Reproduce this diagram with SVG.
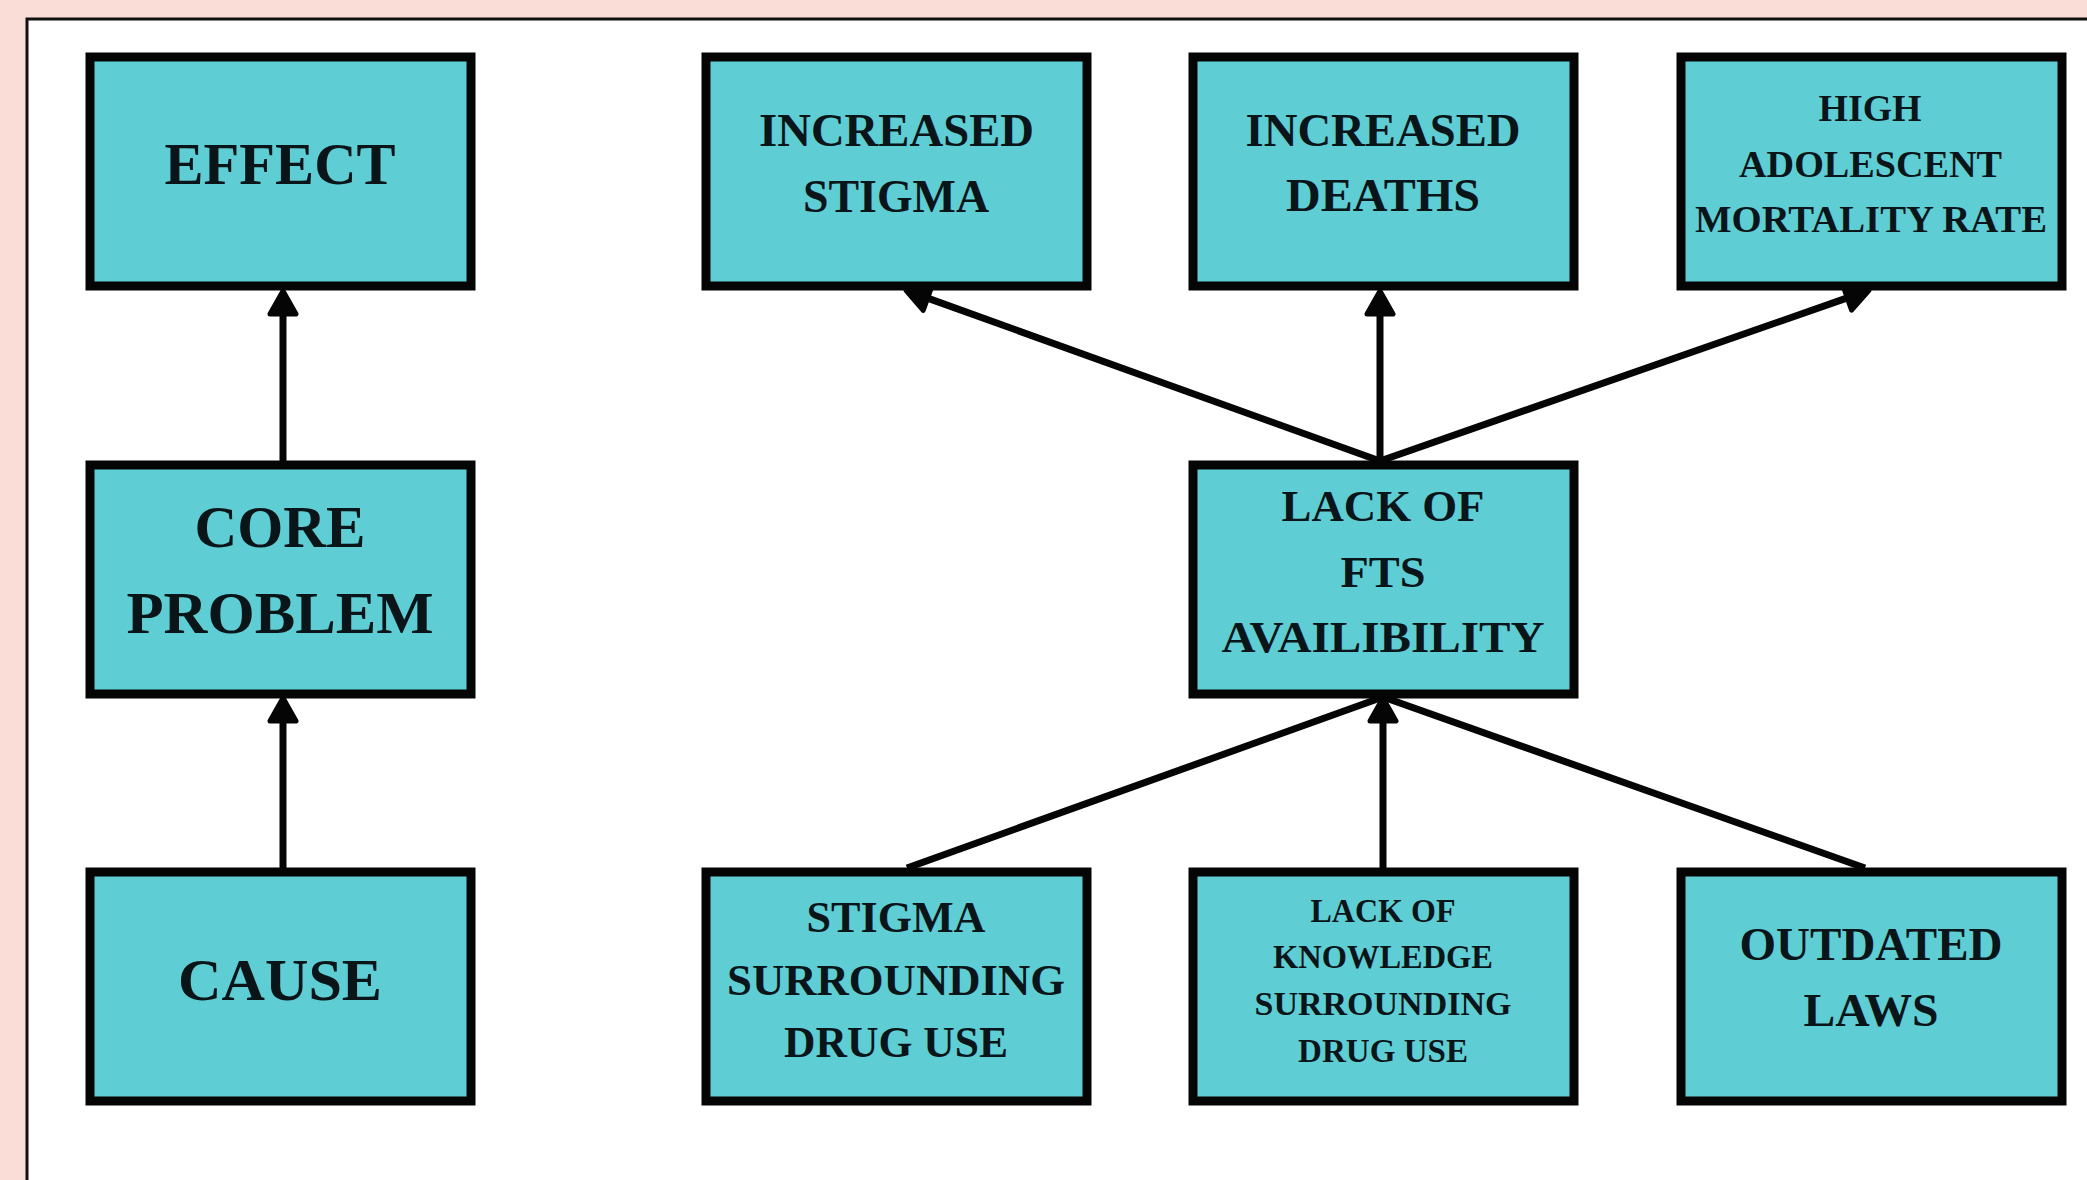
<svg xmlns="http://www.w3.org/2000/svg" width="2087" height="1180" viewBox="0 0 2087 1180">
<style>
.box{fill:#5FCED4;stroke:#050505;stroke-width:9}
.t{font-family:"Liberation Serif","Times New Roman",serif;font-weight:bold;fill:#0a1519;text-anchor:middle}
.c{stroke:#050505;stroke-width:7;fill:none}
</style>
<defs>
<marker id="ah" markerUnits="userSpaceOnUse" viewBox="-4 -17 34 34" markerWidth="34" markerHeight="34" refX="0" refY="0" orient="auto">
<path d="M0,-13 L23,0 L0,13 Z" fill="#050505" stroke="#050505" stroke-width="5" stroke-linejoin="round"/>
</marker>
</defs>
<rect x="0" y="0" width="2087" height="1180" fill="#F9DDD6"/>
<rect x="27" y="19" width="2100" height="1200" fill="#FFFFFF" stroke="#111111" stroke-width="3"/>

<g id="connectors">
<line class="c" x1="283" y1="869" x2="283" y2="721" marker-end="url(#ah)"/>
<line class="c" x1="283" y1="461" x2="283" y2="314" marker-end="url(#ah)"/>
<line class="c" x1="1380" y1="461" x2="1380" y2="314" marker-end="url(#ah)"/>
<line class="c" x1="1380" y1="461" x2="927.6" y2="298.1" marker-end="url(#ah)"/>
<line class="c" x1="1380" y1="461" x2="1847.3" y2="297.9" marker-end="url(#ah)"/>
<line class="c" x1="1383" y1="868" x2="1383" y2="721" marker-end="url(#ah)"/>
<line class="c" x1="907" y1="868" x2="1383" y2="697"/>
<line class="c" x1="1865" y1="868" x2="1383" y2="697"/>
</g>

<g id="effect">
<rect class="box" x="90" y="57" width="381" height="229"/>
<text class="t" x="280" y="184" font-size="60" textLength="231" lengthAdjust="spacingAndGlyphs">EFFECT</text>
</g>
<g id="increased-stigma">
<rect class="box" x="706" y="57" width="381" height="229"/>
<text class="t" x="896.5" y="146" font-size="47" textLength="275" lengthAdjust="spacingAndGlyphs">INCREASED</text>
<text class="t" x="896" y="212" font-size="47" textLength="186" lengthAdjust="spacingAndGlyphs">STIGMA</text>
</g>
<g id="increased-deaths">
<rect class="box" x="1193" y="57" width="381" height="229"/>
<text class="t" x="1383" y="146" font-size="47" textLength="275" lengthAdjust="spacingAndGlyphs">INCREASED</text>
<text class="t" x="1383" y="211" font-size="47" textLength="194" lengthAdjust="spacingAndGlyphs">DEATHS</text>
</g>
<g id="high-mortality">
<rect class="box" x="1681" y="57" width="381" height="229"/>
<text class="t" x="1870" y="121" font-size="38" textLength="103" lengthAdjust="spacingAndGlyphs">HIGH</text>
<text class="t" x="1870.5" y="177" font-size="38" textLength="263" lengthAdjust="spacingAndGlyphs">ADOLESCENT</text>
<text class="t" x="1871" y="232" font-size="38" textLength="352" lengthAdjust="spacingAndGlyphs">MORTALITY RATE</text>
</g>
<g id="core-problem">
<rect class="box" x="90" y="465" width="381" height="229"/>
<text class="t" x="280" y="547" font-size="60" textLength="171" lengthAdjust="spacingAndGlyphs">CORE</text>
<text class="t" x="280" y="633" font-size="60" textLength="307" lengthAdjust="spacingAndGlyphs">PROBLEM</text>
</g>
<g id="lack-fts">
<rect class="box" x="1193" y="465" width="381" height="229"/>
<text class="t" x="1383" y="521" font-size="45" textLength="203" lengthAdjust="spacingAndGlyphs">LACK OF</text>
<text class="t" x="1383" y="587" font-size="45" textLength="85" lengthAdjust="spacingAndGlyphs">FTS</text>
<text class="t" x="1383" y="652" font-size="45" textLength="323" lengthAdjust="spacingAndGlyphs">AVAILIBILITY</text>
</g>
<g id="cause">
<rect class="box" x="90" y="872" width="381" height="229"/>
<text class="t" x="280" y="1000" font-size="60" textLength="204" lengthAdjust="spacingAndGlyphs">CAUSE</text>
</g>
<g id="stigma-drug-use">
<rect class="box" x="706" y="872" width="381" height="229"/>
<text class="t" x="896" y="932" font-size="44" textLength="179" lengthAdjust="spacingAndGlyphs">STIGMA</text>
<text class="t" x="896" y="995" font-size="44" textLength="338" lengthAdjust="spacingAndGlyphs">SURROUNDING</text>
<text class="t" x="896" y="1057" font-size="44" textLength="224" lengthAdjust="spacingAndGlyphs">DRUG USE</text>
</g>
<g id="lack-knowledge">
<rect class="box" x="1193" y="872" width="381" height="229"/>
<text class="t" x="1383" y="922" font-size="33" textLength="145" lengthAdjust="spacingAndGlyphs">LACK OF</text>
<text class="t" x="1383" y="968" font-size="33" textLength="220" lengthAdjust="spacingAndGlyphs">KNOWLEDGE</text>
<text class="t" x="1383" y="1015" font-size="33" textLength="257" lengthAdjust="spacingAndGlyphs">SURROUNDING</text>
<text class="t" x="1383" y="1062" font-size="33" textLength="170" lengthAdjust="spacingAndGlyphs">DRUG USE</text>
</g>
<g id="outdated-laws">
<rect class="box" x="1681" y="872" width="381" height="229"/>
<text class="t" x="1871" y="960" font-size="46" textLength="263" lengthAdjust="spacingAndGlyphs">OUTDATED</text>
<text class="t" x="1871" y="1026" font-size="46" textLength="135" lengthAdjust="spacingAndGlyphs">LAWS</text>
</g>
</svg>
